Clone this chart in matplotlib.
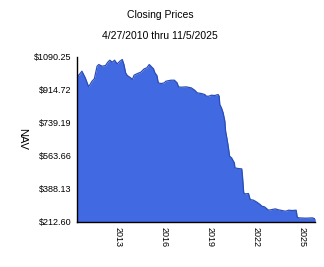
import datetime
import matplotlib
matplotlib.use("Agg")
import matplotlib.pyplot as plt

plt.rcParams['font.family'] = ['Liberation Sans', 'DejaVu Sans']

years = [2010.32, 2010.41, 2010.63, 2010.85, 2011.07, 2011.29, 2011.44, 2011.62, 2011.73, 2011.95,
         2012.17, 2012.32, 2012.45, 2012.61, 2012.76, 2012.93, 2013.11, 2013.26, 2013.37, 2013.48,
         2013.59, 2013.81, 2013.92, 2014.03, 2014.25, 2014.47, 2014.69, 2014.86, 2015.02, 2015.13,
         2015.30, 2015.39, 2015.52, 2015.61, 2015.79, 2016.00, 2016.11, 2016.44, 2016.66, 2016.84,
         2016.93, 2017.10, 2017.43, 2017.76, 2017.98, 2018.15, 2018.42, 2018.64, 2018.75, 2018.90,
         2019.07, 2019.29, 2019.51, 2019.58, 2019.62, 2019.73, 2019.84, 2019.95, 2020.00, 2020.08,
         2020.17, 2020.26, 2020.39, 2020.57, 2020.61, 2020.83, 2021.05, 2021.09, 2021.18, 2021.27,
         2021.49, 2021.60, 2021.82, 2022.04, 2022.25, 2022.36, 2022.54, 2022.69, 2022.80, 2023.02,
         2023.24, 2023.46, 2023.68, 2023.90, 2024.12, 2024.34, 2024.60, 2024.67, 2024.78, 2025.21,
         2025.65, 2025.85]
nav = [996.3, 990.9, 1014.0, 978.6, 930.7, 960.8, 973.2, 1040.6, 1049.5, 1040.6,
       1044.1, 1061.9, 1072.5, 1061.9, 1072.5, 1053.0, 1067.2, 1076.1, 1049.5, 1005.1,
       990.9, 978.6, 969.7, 992.7, 1001.6, 1008.7, 1026.4, 1031.7, 1049.5, 1040.6,
       1026.4, 1005.1, 990.9, 951.9, 948.4, 951.9, 960.8, 966.1, 966.1, 951.9,
       930.7, 928.9, 930.7, 925.3, 912.9, 898.8, 895.2, 889.9, 881.0, 881.0,
       886.3, 884.6, 889.9, 881.0, 836.7, 819.0, 792.4, 748.0, 694.9, 659.4,
       615.1, 561.9, 553.0, 526.4, 499.8, 496.3, 494.5, 464.4, 366.9, 361.5,
       363.3, 331.4, 327.8, 317.2, 304.8, 295.9, 292.4, 281.7, 274.7, 278.2,
       281.7, 276.4, 272.9, 269.3, 274.7, 272.9, 274.7, 237.4, 233.9, 232.1,
       233.9, 228.6]
y_ticks = [212.60, 388.13, 563.66, 739.19, 914.72, 1090.25]
x_tick_years = [2013, 2016, 2019, 2022, 2025]


def to_date(y):
    yr = int(y)
    start = datetime.datetime(yr, 1, 1)
    return start + datetime.timedelta(days=(y - yr) * 365.25)


dates = [to_date(y) for y in years]
dates[0] = datetime.datetime(2010, 4, 27)
dates[-1] = datetime.datetime(2025, 11, 5)

fig = plt.figure(figsize=(3.24, 2.67), dpi=100)
ax = fig.add_axes([0.238, 0.169, 0.735, 0.618])

ax.fill_between(dates, nav, y_ticks[0], color='#4169E1', linewidth=0)
ax.plot(dates, nav, color='#2B4DB5', linewidth=0.9)

ax.set_xlim(dates[0], dates[-1])
ax.set_ylim(y_ticks[0], y_ticks[-1])
ax.set_yticks(y_ticks)
ax.set_yticklabels(['$%.2f' % v for v in y_ticks], fontsize=6.5)
ax.set_xticks([datetime.datetime(y, 1, 1) for y in x_tick_years])
ax.set_xticklabels([str(y) for y in x_tick_years], fontsize=6.5, rotation=270)
ax.tick_params(length=0, pad=4)

for s in ['top', 'right']:
    ax.spines[s].set_visible(False)
for s in ['left', 'bottom']:
    ax.spines[s].set_linewidth(1)

ax.set_ylabel('NAV', rotation=270, fontsize=8, va='center')
ax.yaxis.set_label_coords(-0.23, 0.5)

fig.text(0.494, 0.943, 'Closing Prices', ha='center', va='center', fontsize=7.5)
fig.text(0.494, 0.865, '4/27/2010 thru 11/5/2025', ha='center', va='center', fontsize=7.5)

fig.savefig('out.png', dpi=100)
